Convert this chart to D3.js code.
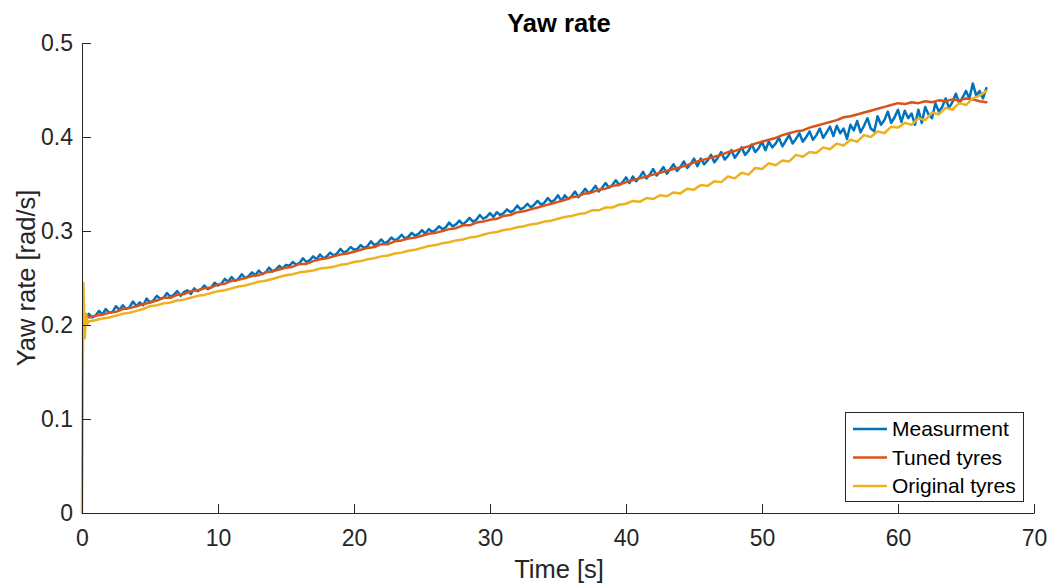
<!DOCTYPE html>
<html>
<head>
  <meta charset="utf-8">
  <script src="https://cdn.jsdelivr.net/npm/d3@7/dist/d3.min.js"></script>
  <style>
    body {
      margin: 0;
      background: #fff;
    }
    text {
      font-family: 'Liberation Sans', Arial, sans-serif;
      fill: #262626;
    }
    .axis path,
    .axis line {
      stroke: #262626;
      stroke-width: 1px;
    }
    .axis text {
      font-size: 23px;
    }
    .line {
      fill: none;
      stroke-width: 2.5px;
      stroke-linejoin: round;
      stroke-linecap: round;
    }
    .title {
      font-size: 25.5px;
      font-weight: bold;
      fill: #000;
    }
    .label {
      font-size: 25.5px;
    }
    .legend text {
      font-size: 21px;
      fill: #000;
    }
  </style>
</head>
<body>
<div id="chart"></div>
<script type="text/javascript">

  /* Data */

  var seriesNames = ["Measurment", "Tuned tyres", "Original tyres"];
  var seriesColors = ["#0072BD", "#D95319", "#EDB120"];

  var xTicks = [0, 10, 20, 30, 40, 50, 60, 70];
  var yTicks = [0, 0.1, 0.2, 0.3, 0.4, 0.5];
  var yTickLabels = ["0", "0.1", "0.2", "0.3", "0.4", "0.5"];

  // measurement, sampled every 0.25 s from t = 0.25 s
  var measStart = 0.25, measStep = 0.25;
  var measurement = [
    0.206, 0.212, 0.208, 0.210, 0.215, 0.211, 0.217, 0.213, 0.214, 0.220, 0.216, 0.221, 0.217, 0.219, 0.225, 0.220, 0.224, 0.221, 0.228, 0.224,
    0.226, 0.231, 0.228, 0.229, 0.234, 0.230, 0.232, 0.236, 0.231, 0.235, 0.237, 0.233, 0.239, 0.236, 0.238, 0.242, 0.238, 0.240, 0.245, 0.242,
    0.244, 0.249, 0.246, 0.251, 0.247, 0.249, 0.254, 0.250, 0.252, 0.256, 0.253, 0.258, 0.254, 0.256, 0.261, 0.257, 0.259, 0.263, 0.260, 0.264,
    0.263, 0.267, 0.264, 0.266, 0.271, 0.267, 0.269, 0.273, 0.270, 0.275, 0.271, 0.273, 0.277, 0.274, 0.276, 0.281, 0.277, 0.279, 0.283, 0.280,
    0.281, 0.285, 0.282, 0.284, 0.289, 0.285, 0.287, 0.291, 0.287, 0.289, 0.293, 0.290, 0.292, 0.296, 0.292, 0.294, 0.298, 0.295, 0.297, 0.301,
    0.297, 0.302, 0.299, 0.301, 0.305, 0.302, 0.304, 0.309, 0.305, 0.307, 0.311, 0.307, 0.310, 0.314, 0.310, 0.312, 0.317, 0.313, 0.315, 0.319,
    0.315, 0.320, 0.317, 0.319, 0.323, 0.320, 0.322, 0.327, 0.323, 0.325, 0.329, 0.325, 0.328, 0.332, 0.328, 0.330, 0.335, 0.331, 0.333, 0.338,
    0.332, 0.338, 0.334, 0.337, 0.342, 0.336, 0.340, 0.345, 0.340, 0.343, 0.348, 0.342, 0.346, 0.351, 0.346, 0.349, 0.354, 0.349, 0.352, 0.357,
    0.351, 0.358, 0.353, 0.357, 0.363, 0.356, 0.360, 0.366, 0.359, 0.363, 0.368, 0.361, 0.366, 0.371, 0.364, 0.368, 0.374, 0.367, 0.371, 0.377,
    0.369, 0.377, 0.371, 0.375, 0.381, 0.373, 0.378, 0.384, 0.376, 0.380, 0.386, 0.378, 0.383, 0.389, 0.381, 0.385, 0.392, 0.384, 0.388, 0.395,
    0.386, 0.395, 0.389, 0.393, 0.399, 0.390, 0.396, 0.402, 0.393, 0.398, 0.404, 0.395, 0.400, 0.406, 0.397, 0.402, 0.409, 0.399, 0.405, 0.411,
    0.401, 0.412, 0.404, 0.409, 0.398, 0.413, 0.407, 0.417, 0.405, 0.412, 0.420, 0.409, 0.406, 0.422, 0.413, 0.418, 0.427, 0.415, 0.421, 0.429,
    0.416, 0.428, 0.420, 0.425, 0.413, 0.429, 0.415, 0.432, 0.424, 0.420, 0.436, 0.427, 0.432, 0.441, 0.431, 0.437, 0.446, 0.436, 0.442, 0.449,
    0.441, 0.457, 0.444, 0.449, 0.441, 0.452
  ];

  // tuned tyre model, every 0.5 s from t = 0.5 s
  var tunedStart = 0.5, tunedStep = 0.5;
  var tuned = [
    0.208, 0.210, 0.211, 0.213, 0.214, 0.217, 0.218, 0.220, 0.222, 0.224,
    0.226, 0.229, 0.229, 0.232, 0.233, 0.236, 0.237, 0.239, 0.240, 0.243,
    0.244, 0.247, 0.248, 0.250, 0.252, 0.253, 0.256, 0.257, 0.259, 0.261,
    0.262, 0.265, 0.265, 0.268, 0.270, 0.271, 0.273, 0.275, 0.276, 0.278,
    0.280, 0.282, 0.283, 0.286, 0.286, 0.289, 0.290, 0.292, 0.293, 0.295,
    0.297, 0.298, 0.300, 0.302, 0.303, 0.306, 0.306, 0.309, 0.310, 0.312,
    0.313, 0.316, 0.317, 0.320, 0.321, 0.323, 0.325, 0.327, 0.329, 0.331,
    0.333, 0.336, 0.337, 0.340, 0.341, 0.344, 0.345, 0.348, 0.349, 0.352,
    0.354, 0.356, 0.358, 0.360, 0.362, 0.364, 0.366, 0.368, 0.370, 0.373,
    0.375, 0.377, 0.379, 0.381, 0.384, 0.385, 0.388, 0.390, 0.393, 0.395,
    0.397, 0.399, 0.402, 0.404, 0.406, 0.407, 0.410, 0.412, 0.414, 0.416,
    0.418, 0.421, 0.422, 0.424, 0.426, 0.428, 0.430, 0.432, 0.434, 0.436,
    0.435, 0.437, 0.436, 0.438, 0.437, 0.439, 0.438, 0.440, 0.439, 0.441,
    0.440, 0.438, 0.437
  ];

  // original tyre model: start-up spike, then every 0.5 s from t = 0.5 s
  var originalSpike = [[0, 0], [0.1, 0.245], [0.2, 0.186], [0.3, 0.212], [0.4, 0.201]];
  var originalStart = 0.5, originalStep = 0.5;
  var original = [
    0.204, 0.205, 0.207, 0.208, 0.210, 0.212, 0.213, 0.215, 0.217, 0.220,
    0.221, 0.223, 0.224, 0.226, 0.227, 0.229, 0.231, 0.232, 0.234, 0.236,
    0.237, 0.239, 0.241, 0.242, 0.244, 0.246, 0.247, 0.249, 0.251, 0.253,
    0.254, 0.256, 0.257, 0.258, 0.260, 0.261, 0.262, 0.264, 0.265, 0.267,
    0.268, 0.270, 0.271, 0.273, 0.274, 0.276, 0.277, 0.279, 0.280, 0.282,
    0.284, 0.285, 0.287, 0.288, 0.290, 0.291, 0.293, 0.294, 0.296, 0.298,
    0.299, 0.301, 0.302, 0.304, 0.305, 0.307, 0.308, 0.310, 0.311, 0.313,
    0.315, 0.316, 0.318, 0.319, 0.322, 0.322, 0.325, 0.325, 0.328, 0.329,
    0.332, 0.331, 0.335, 0.334, 0.338, 0.337, 0.341, 0.340, 0.345, 0.344,
    0.349, 0.348, 0.353, 0.352, 0.358, 0.356, 0.362, 0.360, 0.367, 0.366,
    0.372, 0.370, 0.375, 0.374, 0.381, 0.379, 0.384, 0.383, 0.389, 0.387,
    0.393, 0.391, 0.397, 0.395, 0.402, 0.400, 0.406, 0.404, 0.411, 0.410,
    0.415, 0.413, 0.420, 0.418, 0.426, 0.424, 0.431, 0.429, 0.436, 0.434,
    0.441, 0.444, 0.449
  ];

  /* Helpers */

  // pair each sample with its time stamp
  function sampled(values, start, step) {
    return values.map(function(v, i) {
      return [start + i * step, v];
    });
  }

  /* Chart */

  var width = 1049,
      height = 583;
  var plotLeft = 82,
      plotRight = 1034,
      plotTop = 43,
      plotBottom = 513;

  var svg = d3.select("#chart")
    .append("svg")
    .attr("width", width)
    .attr("height", height);

  var x = d3.scaleLinear().domain([0, 70]).range([plotLeft, plotRight]);
  var y = d3.scaleLinear().domain([0, 0.5]).range([plotBottom, plotTop]);

  var allSeries = [
    sampled(measurement, measStart, measStep),
    sampled(tuned, tunedStart, tunedStep),
    originalSpike.concat(sampled(original, originalStart, originalStep))
  ];

  var line = d3.line()
    .x(function(d) { return x(d[0]); })
    .y(function(d) { return y(d[1]); });

  svg.selectAll(".line")
    .data(allSeries)
    .enter()
    .append("path")
    .attr("class", "line")
    .attr("stroke", function(d, i) { return seriesColors[i]; })
    .attr("d", line);

  // axes, MATLAB style: ticks pointing inwards, no box
  var xAxis = d3.axisBottom(x)
    .tickValues(xTicks)
    .tickSizeInner(-9)
    .tickSizeOuter(0)
    .tickPadding(17);

  var yAxis = d3.axisLeft(y)
    .tickValues(yTicks)
    .tickFormat(function(d, i) { return yTickLabels[i]; })
    .tickSizeInner(-9)
    .tickSizeOuter(0)
    .tickPadding(9);

  svg.append("g")
    .attr("class", "axis")
    .attr("transform", "translate(0," + plotBottom + ")")
    .call(xAxis);

  svg.append("g")
    .attr("class", "axis")
    .attr("transform", "translate(" + plotLeft + ",0)")
    .call(yAxis);

  svg.selectAll(".axis text")
    .attr("fill", "#262626")
    .style("font-family", "'Liberation Sans', Arial, sans-serif");

  // title and axis labels
  svg.append("text")
    .attr("class", "title")
    .attr("x", (plotLeft + plotRight) / 2 + 1)
    .attr("y", 32)
    .attr("text-anchor", "middle")
    .text("Yaw rate");

  svg.append("text")
    .attr("class", "label")
    .attr("x", (plotLeft + plotRight) / 2 + 1)
    .attr("y", 578)
    .attr("text-anchor", "middle")
    .text("Time [s]");

  svg.append("text")
    .attr("class", "label")
    .attr("transform", "translate(35," + ((plotTop + plotBottom) / 2) + ") rotate(-90)")
    .attr("text-anchor", "middle")
    .text("Yaw rate [rad/s]");

  // legend, lower right
  var legend = svg.append("g")
    .attr("class", "legend");

  legend.append("rect")
    .attr("x", 845.5)
    .attr("y", 412.5)
    .attr("width", 178)
    .attr("height", 89)
    .attr("fill", "#fff")
    .attr("stroke", "#262626")
    .attr("stroke-width", 1);

  var rows = legend.selectAll(".row")
    .data(seriesNames)
    .enter()
    .append("g")
    .attr("class", "row")
    .attr("transform", function(d, i) { return "translate(0," + (429 + i * 28.5) + ")"; });

  rows.append("line")
    .attr("x1", 853)
    .attr("x2", 887)
    .attr("stroke", function(d, i) { return seriesColors[i]; })
    .attr("stroke-width", 2.5);

  rows.append("text")
    .attr("x", 892)
    .attr("dy", "0.35em")
    .text(function(d) { return d; });

</script>
</body>
</html>
